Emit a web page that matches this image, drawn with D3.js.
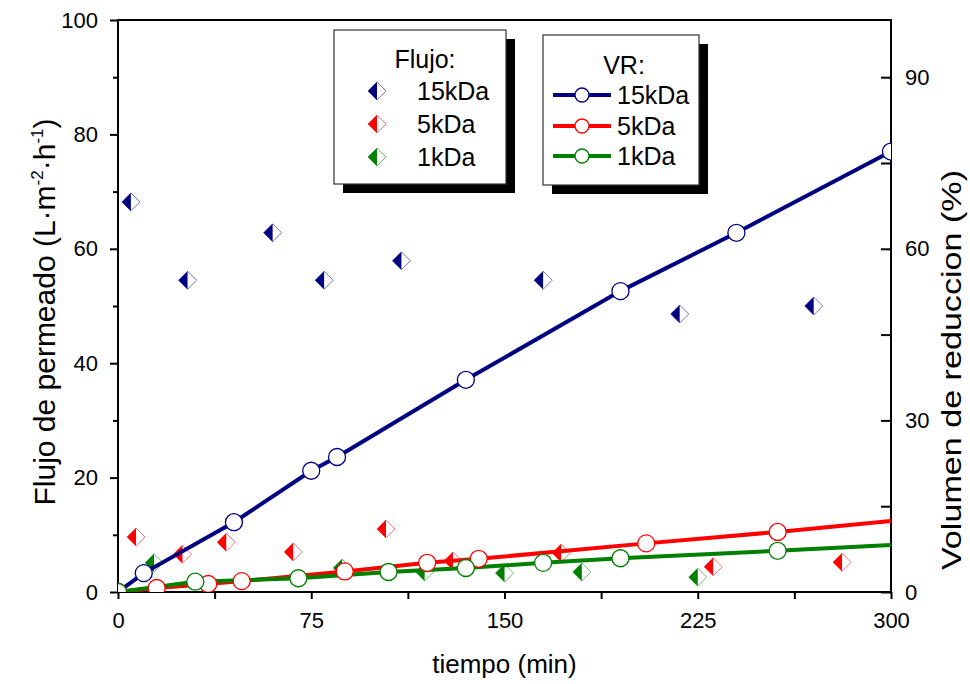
<!DOCTYPE html>
<html>
<head>
<meta charset="utf-8">
<script src="https://cdn.jsdelivr.net/npm/d3@7"></script>
<style>
  html, body { margin: 0; padding: 0; background: #ffffff; }
  svg { display: block; font-family: "Liberation Sans", Arial, sans-serif; }
</style>
</head>
<body>
<div id="chart"></div>
<script>
// flujo de permeado (eje izquierdo)
const fluxTime15 = [5, 27, 60, 80, 110, 165, 218, 270]
const flux15 = [68.2, 54.5, 62.8, 54.5, 57.9, 54.5, 48.6, 50.0]
const fluxTime5 = [7, 25, 42, 68, 104, 130, 172, 231, 281]
const flux5 = [9.6, 6.6, 8.7, 7.0, 11.0, 5.4, 6.8, 4.4, 5.2]
const fluxTime1 = [14, 87, 119, 150, 180, 225]
const flux1 = [5.1, 4.2, 3.5, 3.3, 3.5, 2.6]

// volumen de reduccion (eje derecho)
const vrTime15 = [0, 10, 45, 75, 85, 135, 195, 240, 300]
const vr15 = [0, 3.3, 12.2, 21.2, 23.6, 37.1, 52.6, 62.8, 77.0]
const vrTime5 = [0, 15, 35, 48, 88, 120, 140, 205, 256]
const vr5 = [0, 0.7, 1.4, 1.9, 3.6, 5.1, 5.8, 8.5, 10.5]
const vrTime1 = [0, 30, 70, 105, 135, 165, 195, 256]
const vr1 = [0, 1.8, 2.4, 3.5, 4.2, 5.1, 5.9, 7.2]
// final de la linea en t = 300 (sin simbolo)
const vrEnd = [77.0, 12.4, 8.2]

const seriesNames = ['15kDa', '5kDa', '1kDa']
const seriesColors = ['#000080', '#ff0000', '#008000']

const xTicks = [0, 37.5, 75, 112.5, 150, 187.5, 225, 262.5, 300]
const xLabels = [0, 75, 150, 225, 300]
const yLeftTicks = [0, 10, 20, 30, 40, 50, 60, 70, 80, 90, 100]
const yLeftLabels = [0, 20, 40, 60, 80, 100]
const yRightTicks = [0, 15, 30, 45, 60, 75, 90]
const yRightLabels = [0, 30, 60, 90]

const width = 970
const height = 684
const plot = { left: 118, right: 891, top: 20, bottom: 592 }

const svg = d3.select('#chart')
  .append('svg')
  .attr('width', width)
  .attr('height', height)

const x = d3.scaleLinear().domain([0, 300]).range([plot.left, plot.right])
const yL = d3.scaleLinear().domain([0, 100]).range([plot.bottom, plot.top])
const yR = d3.scaleLinear().domain([0, 100]).range([plot.bottom, plot.top])

svg.append('defs').append('clipPath')
  .attr('id', 'clip')
  .append('rect')
  .attr('x', plot.left)
  .attr('y', plot.top)
  .attr('width', plot.right - plot.left)
  .attr('height', plot.bottom - plot.top)

// ejes
const tickFont = 22

const xAxis = svg.append('g')
  .attr('transform', `translate(0,${plot.bottom})`)
  .call(d3.axisBottom(x)
    .tickValues(xTicks)
    .tickSize(7)
    .tickPadding(13)
    .tickFormat(d => xLabels.includes(d) ? d : ''))

const leftAxis = svg.append('g')
  .attr('transform', `translate(${plot.left},0)`)
  .call(d3.axisLeft(yL)
    .tickValues(yLeftTicks)
    .tickSize(8)
    .tickPadding(12)
    .tickFormat(d => yLeftLabels.includes(d) ? d : ''))
leftAxis.selectAll('.tick')
  .filter(d => !yLeftLabels.includes(d))
  .select('line')
  .attr('x2', -5)

const rightAxis = svg.append('g')
  .attr('transform', `translate(${plot.right},0)`)
  .call(d3.axisRight(yR)
    .tickValues(yRightTicks)
    .tickSize(-10)
    .tickPadding(14)
    .tickFormat(d => yRightLabels.includes(d) ? d : ''))

;[xAxis, leftAxis, rightAxis].forEach(a => {
  a.select('.domain').remove()
  a.selectAll('line').attr('stroke', '#000').attr('stroke-width', 2)
  a.selectAll('text')
    .attr('fill', '#000')
    .style('font-size', tickFont + 'px')
    .style('font-family', '"Liberation Sans", Arial, sans-serif')
})

// marco
svg.append('rect')
  .attr('x', plot.left)
  .attr('y', plot.top)
  .attr('width', plot.right - plot.left)
  .attr('height', plot.bottom - plot.top)
  .attr('fill', 'none')
  .attr('stroke', '#000')
  .attr('stroke-width', 2)

// titulos de ejes
svg.append('text')
  .attr('x', (plot.left + plot.right) / 2)
  .attr('y', 673)
  .attr('text-anchor', 'middle')
  .style('font-size', '26px')
  .text('tiempo (min)')

const yTitle = svg.append('text')
  .attr('transform', 'translate(55,312) rotate(-90)')
  .attr('text-anchor', 'middle')
  .style('font-size', '30px')
yTitle.append('tspan').text('Flujo de permeado (L·m')
yTitle.append('tspan').attr('dy', -12).style('font-size', '17px').text('-2')
yTitle.append('tspan').attr('dy', 12).text('·h')
yTitle.append('tspan').attr('dy', -12).style('font-size', '17px').text('-1')
yTitle.append('tspan').attr('dy', 12).text(')')

svg.append('text')
  .attr('transform', 'translate(961,370) rotate(-90)')
  .attr('text-anchor', 'middle')
  .attr('textLength', 400)
  .attr('lengthAdjust', 'spacingAndGlyphs')
  .style('font-size', '28px')
  .text('Volumen de reduccion (%)')

// simbolos
const diamondSize = 9
function drawDiamond(g, cx, cy, r, color) {
  g.append('path')
    .attr('d', `M${cx},${cy - r} L${cx + r},${cy} L${cx},${cy + r} L${cx - r},${cy} Z`)
    .attr('fill', '#fff')
    .attr('stroke', color)
    .attr('stroke-opacity', 0.55)
    .attr('stroke-width', 1)
  g.append('path')
    .attr('d', `M${cx},${cy - r} L${cx},${cy + r} L${cx - r},${cy} Z`)
    .attr('fill', color)
}

const fluxSeries = [
  { t: fluxTime15, v: flux15 },
  { t: fluxTime5, v: flux5 },
  { t: fluxTime1, v: flux1 }
]
const vrSeries = [
  { t: vrTime15, v: vr15 },
  { t: vrTime5, v: vr5 },
  { t: vrTime1, v: vr1 }
]

const fluxLayer = svg.append('g')
fluxSeries.forEach((s, i) => {
  s.t.forEach((t, j) => {
    drawDiamond(fluxLayer, x(t), yL(s.v[j]), diamondSize, seriesColors[i])
  })
})

const line = d3.line().x(d => x(d[0])).y(d => yR(d[1]))
const lineLayer = svg.append('g').attr('clip-path', 'url(#clip)')
vrSeries.forEach((s, i) => {
  const pts = s.t.map((t, j) => [t, s.v[j]])
  if (pts[pts.length - 1][0] < 300) pts.push([300, vrEnd[i]])
  lineLayer.append('path')
    .datum(pts)
    .attr('d', line)
    .attr('fill', 'none')
    .attr('stroke', seriesColors[i])
    .attr('stroke-width', 4)
})

const circleLayer = svg.append('g').attr('clip-path', 'url(#clip)')
vrSeries.forEach((s, i) => {
  circleLayer.selectAll(null)
    .data(s.t.map((t, j) => [t, s.v[j]]))
    .enter()
    .append('circle')
    .attr('cx', d => x(d[0]))
    .attr('cy', d => yR(d[1]))
    .attr('r', 8.5)
    .attr('fill', '#fff')
    .attr('stroke', seriesColors[i])
    .attr('stroke-width', 1.3)
})

// leyendas
function legendBox(x0, y0, w, h) {
  svg.append('rect')
    .attr('x', x0 + 9).attr('y', y0 + 9)
    .attr('width', w).attr('height', h)
    .attr('fill', '#000')
  svg.append('rect')
    .attr('x', x0).attr('y', y0)
    .attr('width', w).attr('height', h)
    .attr('fill', '#fff')
    .attr('stroke', '#333')
    .attr('stroke-width', 1.2)
}

const legendFont = '25px'
const legendRows = [91, 124, 157]

legendBox(334, 30, 172, 154)
svg.append('text')
  .attr('x', 425).attr('y', 68)
  .attr('text-anchor', 'middle')
  .style('font-size', legendFont)
  .text('Flujo:')
const leg1 = svg.append('g')
seriesNames.forEach((name, i) => {
  drawDiamond(leg1, 377, legendRows[i], 9, seriesColors[i])
  leg1.append('text')
    .attr('x', 417).attr('y', legendRows[i] + 9)
    .style('font-size', legendFont)
    .text(name)
})

const legendRows2 = [95, 126, 156]
legendBox(543, 35, 156, 150)
svg.append('text')
  .attr('x', 624).attr('y', 74)
  .attr('text-anchor', 'middle')
  .style('font-size', legendFont)
  .text('VR:')
const leg2 = svg.append('g')
seriesNames.forEach((name, i) => {
  const cy = legendRows2[i]
  leg2.append('line')
    .attr('x1', 553).attr('x2', 611)
    .attr('y1', cy).attr('y2', cy)
    .attr('stroke', seriesColors[i])
    .attr('stroke-width', 4)
  leg2.append('circle')
    .attr('cx', 582).attr('cy', cy)
    .attr('r', 7)
    .attr('fill', '#fff')
    .attr('stroke', seriesColors[i])
    .attr('stroke-width', 1.3)
  leg2.append('text')
    .attr('x', 617).attr('y', cy + 9)
    .style('font-size', legendFont)
    .text(name)
})
</script>
</body>
</html>
